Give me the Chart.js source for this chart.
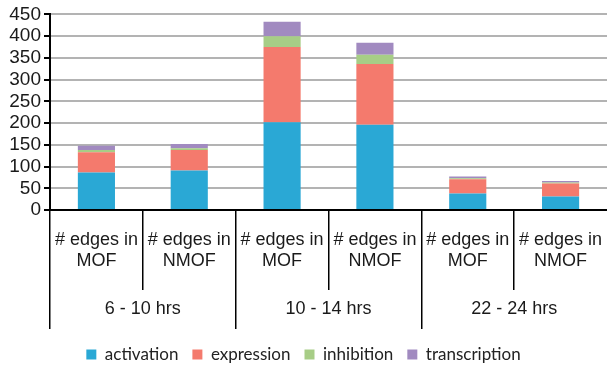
<!DOCTYPE html>
<html>
<head>
<meta charset="utf-8">
<script src="https://cdn.jsdelivr.net/npm/chart.js@4/dist/chart.umd.min.js"></script>
<style>
  html, body { margin: 0; padding: 0; background: #fff; }
  #wrap { width: 607px; height: 367px; }
</style>
</head>
<body>
<div id="wrap"><canvas id="chart" width="607" height="367"></canvas></div>
<script>
// Edge counts per network, split by interaction type
const subLabels = [
  ['# edges in', 'MOF'], ['# edges in', 'NMOF'],
  ['# edges in', 'MOF'], ['# edges in', 'NMOF'],
  ['# edges in', 'MOF'], ['# edges in', 'NMOF']
];
const groupLabels = ['6 - 10 hrs', '10 - 14 hrs', '22 - 24 hrs'];
const activation    = [86, 91, 202, 196, 38, 31];
const expression    = [47, 47, 173, 140, 33, 30];
const inhibition    = [5, 4, 25, 21, 2, 2];
const transcription = [10, 10, 33, 28, 4, 4];
const yTicks = [0, 50, 100, 150, 200, 250, 300, 350, 400, 450];

const AXIS_FONT = "'Liberation Sans', Arial, sans-serif";
const LEGEND_FONT = "Lato, 'Open Sans', sans-serif";

const mk = (label, data, color) => ({
  label, data, backgroundColor: color, borderWidth: 0,
  xAxisID: 'x', yAxisID: 'y',
  categoryPercentage: 1.0, barPercentage: 0.4
});

// separators only at the left edge of each band; the closing line at the right end is hidden
const edgeColor = (ctx) => ctx.type === 'tick' ? '#000' : 'rgba(0,0,0,0)';

new Chart(document.getElementById('chart'), {
  type: 'bar',
  data: {
    labels: subLabels,
    datasets: [
      mk('activation', activation, '#2aa8d5'),
      mk('expression', expression, '#f47a6d'),
      mk('inhibition', inhibition, '#a7cd86'),
      mk('transcription', transcription, '#a18ac0')
    ]
  },
  options: {
    responsive: false,
    animation: false,
    layout: { padding: { top: 14, left: 0, right: 0, bottom: -6 } },
    plugins: {
      tooltip: { enabled: false },
      legend: {
        position: 'bottom',
        labels: {
          boxWidth: 10, boxHeight: 10, padding: 14,
          color: '#222',
          font: { family: LEGEND_FONT, size: 17 }
        }
      }
    },
    scales: {
      x: {
        type: 'category',
        stacked: true,
        offset: true,
        weight: 0,
        border: { display: true, color: '#000', width: 2 },
        grid: {
          offset: true, drawOnChartArea: false, drawTicks: true,
          tickLength: 80, lineWidth: 1.5, color: edgeColor
        },
        ticks: {
          autoSkip: false, maxRotation: 0, padding: -61,
          color: '#1a1a1a',
          font: { family: AXIS_FONT, size: 18, lineHeight: 1.2 }
        },
        afterFit: (s) => { s.height = 80; }
      },
      x2: {
        type: 'category',
        labels: groupLabels,
        position: 'bottom',
        offset: true,
        weight: 1,
        border: { display: false },
        grid: {
          offset: true, drawOnChartArea: false, drawTicks: true,
          tickLength: 39, lineWidth: 1.5, color: edgeColor
        },
        ticks: {
          autoSkip: false, maxRotation: 0, padding: -31,
          color: '#1a1a1a',
          font: { family: AXIS_FONT, size: 18, lineHeight: 1.2 }
        },
        afterFit: (s) => { s.height = 42; }
      },
      y: {
        stacked: true,
        min: 0, max: 450,
        border: { display: true, color: '#000', width: 2 },
        grid: { color: '#b3b3b3', lineWidth: 2, tickColor: '#000', tickLength: 6 },
        afterBuildTicks: (s) => { s.ticks = yTicks.map(v => ({ value: v })); },
        ticks: {
          autoSkip: false,
          padding: 3,
          color: '#1a1a1a',
          font: { family: AXIS_FONT, size: 19 }
        },
        afterFit: (s) => { s.width = 50; }
      }
    }
  }
});
</script>
</body>
</html>
